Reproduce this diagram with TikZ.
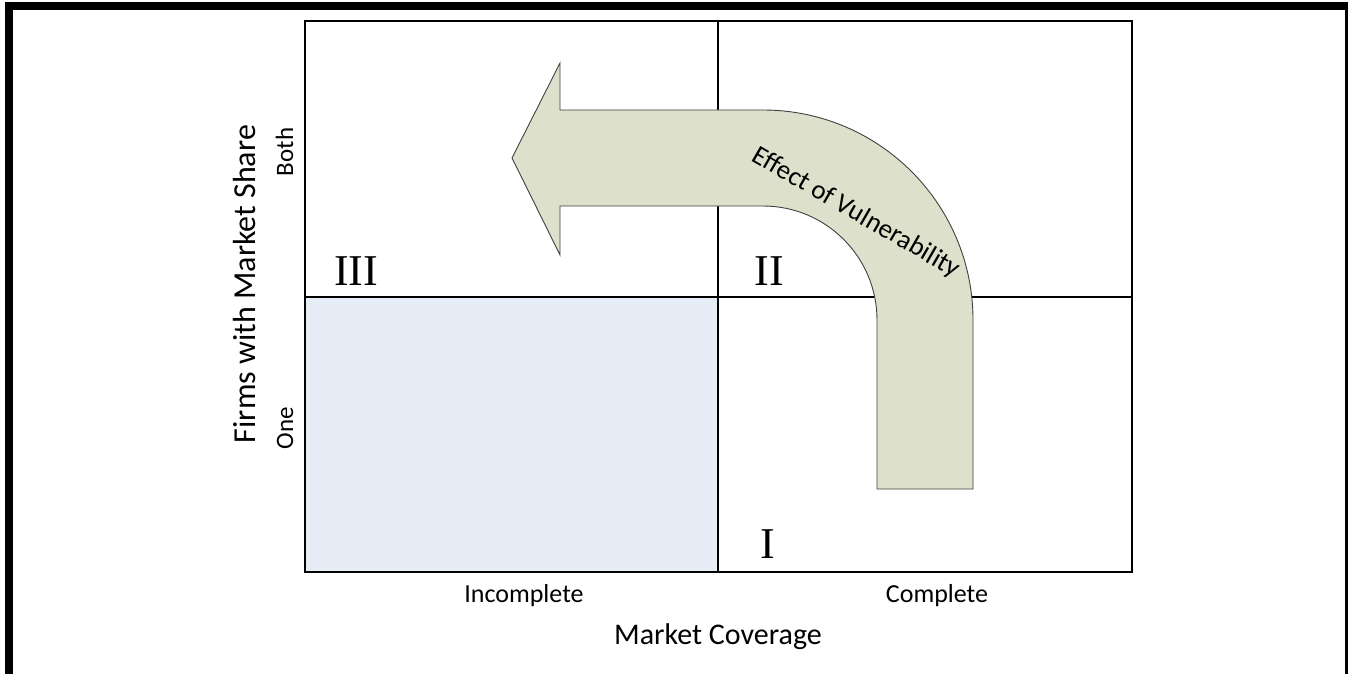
\documentclass[tikz,border=0pt]{standalone}
\usepackage{fontspec}
\setmainfont{Carlito}
\newfontfamily\numeralfont{Liberation Serif}
\definecolor{quadblue}{RGB}{231,237,247}
\definecolor{bendgreen}{RGB}{221,225,203}
\definecolor{bendline}{RGB}{64,64,64}

\begin{document}
\begin{tikzpicture}[x=1pt,y=-1pt,
  catlabel/.style={inner sep=0pt,anchor=base,font=\fontsize{26}{30}\selectfont},
  axislabel/.style={inner sep=0pt,anchor=base,font=\fontsize{30}{36}\selectfont},
  quadlabel/.style={inner sep=0pt,anchor=base,font=\numeralfont\fontsize{44}{50}\selectfont},
  gridline/.style={line width=1.2pt}]
  \useasboundingbox (0,0) rectangle (1348,674);
  \clip (0,0) rectangle (1348,674);
  % frame
  \draw[line width=8pt] (9,690) -- (9,6) -- (1349,6) -- (1349,690);
  % quadrants
  \coordinate (nw) at (305,21);
  \coordinate (se) at (1132,572);
  \coordinate (mid) at (718,297);
  \fill[quadblue] (nw |- mid) rectangle (mid |- se);
  \draw[gridline] (nw) rectangle (se);
  \draw[gridline] (mid |- nw) -- (mid |- se);
  \draw[gridline] (nw |- mid) -- (se |- mid);
  % bent arrow
  \draw[fill=bendgreen,draw=bendline,line width=0.9pt]
    (877,489) -- (877,320) arc[start angle=0,end angle=-90,radius=114]
    -- (560,206) -- (560,255) -- (512,158) -- (560,63) -- (560,110)
    -- (763,110) arc[start angle=-90,end angle=0,radius=210]
    -- (973,489) -- cycle;
  \node[inner sep=0pt,rotate=-30,font=\fontsize{27}{31}\selectfont] (effect) at (856,213) {Effect of Vulnerability};
  % labels
  \node[quadlabel] (q3) at (356,285) {III};
  \node[quadlabel] (q2) at (769,285) {II};
  \node[quadlabel] (q1) at (768,558) {I};
  \node[catlabel] (incomplete) at (524,602) {Incomplete};
  \node[catlabel] (complete) at (937,602) {Complete};
  \node[catlabel,rotate=90,font=\fontsize{25}{30}\selectfont] (both) at (293,152) {Both};
  \node[catlabel,rotate=90,font=\fontsize{25}{30}\selectfont] (one) at (293,428) {One};
  \node[axislabel] (coverage) at (718,644) {Market Coverage};
  \node[axislabel,rotate=90,font=\fontsize{32}{38}\selectfont] (share) at (255,284) {Firms with Market Share};
\end{tikzpicture}
\end{document}
